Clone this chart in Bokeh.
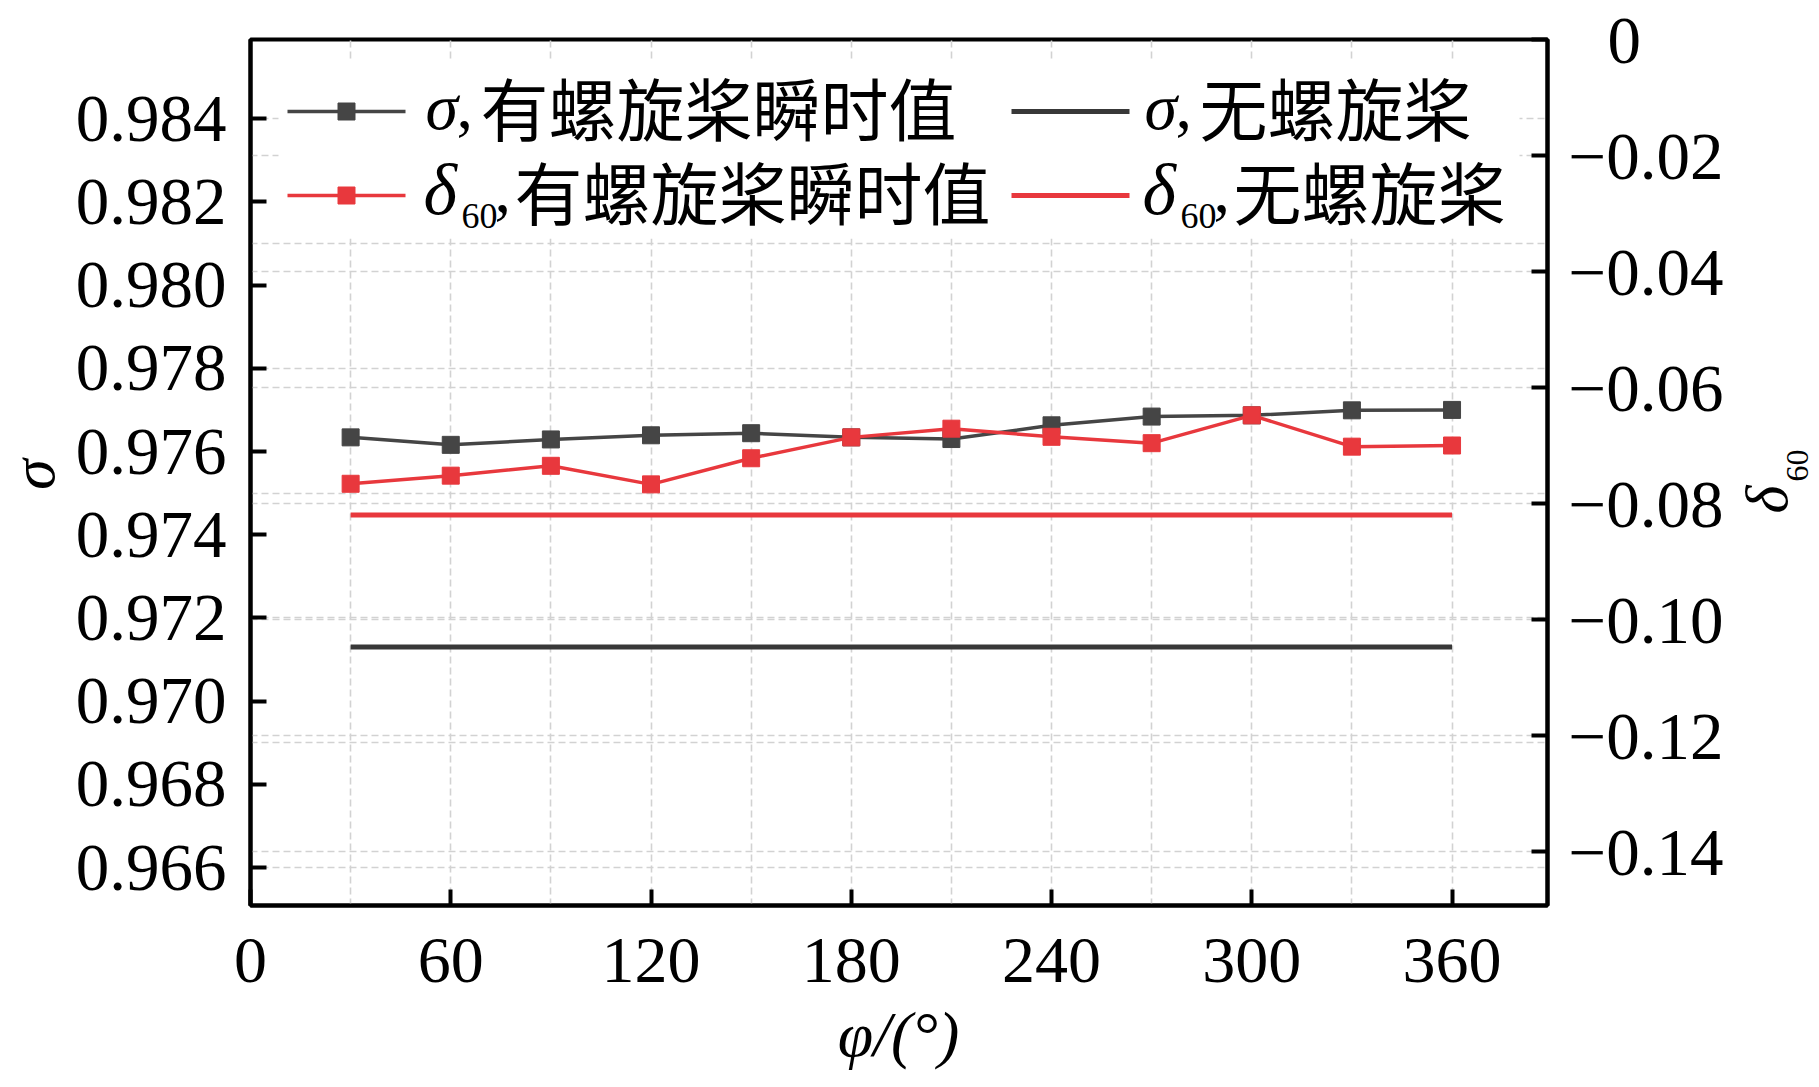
import math
from bokeh.plotting import figure
from bokeh.models import (Range1d, LinearAxis, FixedTicker, SingleIntervalTicker, Grid,
                          CustomJSTickFormatter, Label)
from bokeh.embed import file_html
from bokeh.resources import INLINE

# ---------------- data ----------------
phi = [30, 60, 90, 120, 150, 180, 210, 240, 270, 300, 330, 360]
sigma_prop = [0.97634, 0.97616, 0.97629, 0.97639, 0.97644, 0.97634,
              0.97630, 0.97663, 0.97684, 0.97687, 0.97699, 0.97700]
delta_prop = [-0.0766, -0.0752, -0.0735, -0.0767, -0.0722, -0.0686,
              -0.0671, -0.0685, -0.0696, -0.0648, -0.0702, -0.0700]
phi_const = [30, 360]
sigma_noprop = [0.97130, 0.97130]
delta_noprop = [-0.0820, -0.0820]

x_ticks = [0, 60, 120, 180, 240, 300, 360]
left_ticks = [0.966, 0.968, 0.970, 0.972, 0.974, 0.976, 0.978, 0.980, 0.982, 0.984]
right_ticks = [0.0, -0.02, -0.04, -0.06, -0.08, -0.10, -0.12, -0.14]

legend_prop = "有螺旋桨瞬时值"
legend_noprop = "无螺旋桨"
x_title = "φ/(°)"

# ---------------- layout ----------------
X0, X1 = 0.0, 388.6
Y0, Y1 = 0.965087, 0.985904
R0, R1 = -0.14931, 0.0
W, H = 1819, 1087
FL, FR, FT, FB = 250, 1547, 39, 905   # frame in canvas pixels

GRAY = "#454545"
BLACK2 = "#383838"
RED = "#e8383d"
SERIF = "Liberation Serif"
CJK = "Noto Sans CJK SC"

p = figure(width=W, height=H, output_backend="svg", toolbar_location=None,
           x_range=Range1d(X0, X1), y_range=Range1d(Y0, Y1),
           min_border_left=FL, min_border_right=W - FR,
           min_border_top=FT, min_border_bottom=H - FB)
p.extra_y_ranges = {"right": Range1d(R0, R1)}
p.background_fill_color = "white"
p.border_fill_color = "white"
p.outline_line_color = "black"
p.outline_line_width = 4
p.outline_line_alpha = 1.0


def xd(px):
    return X0 + (px - FL) / (FR - FL) * (X1 - X0)


def yd(py):
    return Y1 - (py - FT) / (FB - FT) * (Y1 - Y0)


def style_axis(ax, standoff, size="67px"):
    ax.axis_line_color = "black"
    ax.axis_line_width = 4
    ax.major_tick_in = 16
    ax.major_tick_out = 0
    ax.major_tick_line_width = 4
    ax.major_tick_line_color = "black"
    ax.minor_tick_line_color = None
    ax.major_label_text_font = SERIF
    ax.major_label_text_font_size = size
    ax.major_label_text_color = "black"
    ax.major_label_standoff = standoff
    ax.axis_label = None


# axes
xa = p.xaxis[0]
xa.ticker = FixedTicker(ticks=x_ticks)
style_axis(xa, 33, "66px")

ya = p.yaxis[0]
ya.ticker = FixedTicker(ticks=left_ticks)
ya.formatter = CustomJSTickFormatter(code="return tick.toFixed(3);")
style_axis(ya, 24)

# the "0" label is padded by the width of a minus sign, as in the reference
ra = LinearAxis(y_range_name="right", ticker=FixedTicker(ticks=right_ticks),
                formatter=CustomJSTickFormatter(
                    code="return Math.abs(tick) < 1e-9 ? '\u2002\u200a0' : '\u2212' + Math.abs(tick).toFixed(2);"))
style_axis(ra, 21)
p.add_layout(ra, "right")

# grids
GRID_COLOR = "#d2d2d2"
p.xgrid.ticker = SingleIntervalTicker(interval=30)
p.xgrid.grid_line_color = GRID_COLOR
p.xgrid.grid_line_dash = "7 4"
p.xgrid.grid_line_width = 1.6
p.ygrid.ticker = SingleIntervalTicker(interval=0.003)
p.ygrid.grid_line_color = GRID_COLOR
p.ygrid.grid_line_dash = "7 4"
p.ygrid.grid_line_width = 1.6
rgrid = Grid(dimension=1, y_range_name="right", ticker=FixedTicker(ticks=right_ticks[1:]),
             grid_line_color=GRID_COLOR, grid_line_dash="7 4", grid_line_width=1.6)
p.add_layout(rgrid)

# legend background (covers grid lines)
p.quad(left=[xd(278)], right=[xd(1519)], top=[yd(60)], bottom=[yd(238)],
       fill_color="white", line_color=None)

# ---------------- data glyphs ----------------
p.line(phi_const, sigma_noprop, line_color=BLACK2, line_width=5)
p.line(phi_const, delta_noprop, line_color=RED, line_width=5, y_range_name="right")
p.line(phi, sigma_prop, line_color=GRAY, line_width=3.5)
p.scatter(phi, sigma_prop, marker="square", size=17, fill_color=GRAY, line_color=GRAY)
p.line(phi, delta_prop, line_color=RED, line_width=3.5, y_range_name="right")
p.scatter(phi, delta_prop, marker="square", size=17, fill_color=RED, line_color=RED,
          y_range_name="right")

# ---------------- manual legend ----------------
ROW1, ROW2 = 111, 195
p.line([xd(287), xd(405)], [yd(ROW1)] * 2, line_color=GRAY, line_width=3.5)
p.scatter([xd(346)], [yd(ROW1)], marker="square", size=17, fill_color=GRAY, line_color=GRAY)
p.line([xd(287), xd(405)], [yd(ROW2)] * 2, line_color=RED, line_width=3.5)
p.scatter([xd(346)], [yd(ROW2)], marker="square", size=17, fill_color=RED, line_color=RED)
p.line([xd(1011), xd(1129)], [yd(ROW1)] * 2, line_color=BLACK2, line_width=5)
p.line([xd(1011), xd(1129)], [yd(ROW2)] * 2, line_color=RED, line_width=5)


def lab(text, px, py, size, font=SERIF, style="normal", angle=0.0, align="left",
        baseline="alphabetic", place=None):
    lb = Label(x=xd(px), y=yd(py), text=text, text_font=font,
               text_font_size=f"{size}px", text_font_style=style, angle=angle,
               text_align=align, text_baseline=baseline, text_color="black")
    if place is None:
        p.add_layout(lb)
    else:
        p.add_layout(lb, place)


B1, B2 = 106, 190
# row 1 col 1
lab("σ", 425, B1, 66, style="italic")
lab(",", 456, B1, 66)
lab(legend_prop, 480, B1, 68, font=CJK)
# row 2 col 1
lab("δ", 423, B2 - 1, 72, style="italic")
lab("60", 461, B2 + 25, 36)
lab(",", 494, B2, 66)
lab(legend_prop, 514, B2, 68, font=CJK)
# row 1 col 2
lab("σ", 1144, B1, 66, style="italic")
lab(",", 1175, B1, 66)
lab(legend_noprop, 1199, B1, 68, font=CJK)
# row 2 col 2
lab("δ", 1142, B2 - 1, 72, style="italic")
lab("60", 1180, B2 + 25, 36)
lab(",", 1213, B2, 66)
lab(legend_noprop, 1233, B2, 68, font=CJK)

# ---------------- axis titles (side panels, so they are not clipped) ----------------
lab("σ", 32, 474, 62, style="italic", angle=math.pi / 2, align="center", place="left")
lab("δ", 1766, 513, 60, style="italic", angle=math.pi / 2, align="left", place="right")
lab("60", 1797, 481, 32, angle=math.pi / 2, align="left", place="right")
lab(x_title, 898, 1034, 64, style="italic", align="center", place="below")

open("out.html", "w").write(file_html(p, INLINE))
